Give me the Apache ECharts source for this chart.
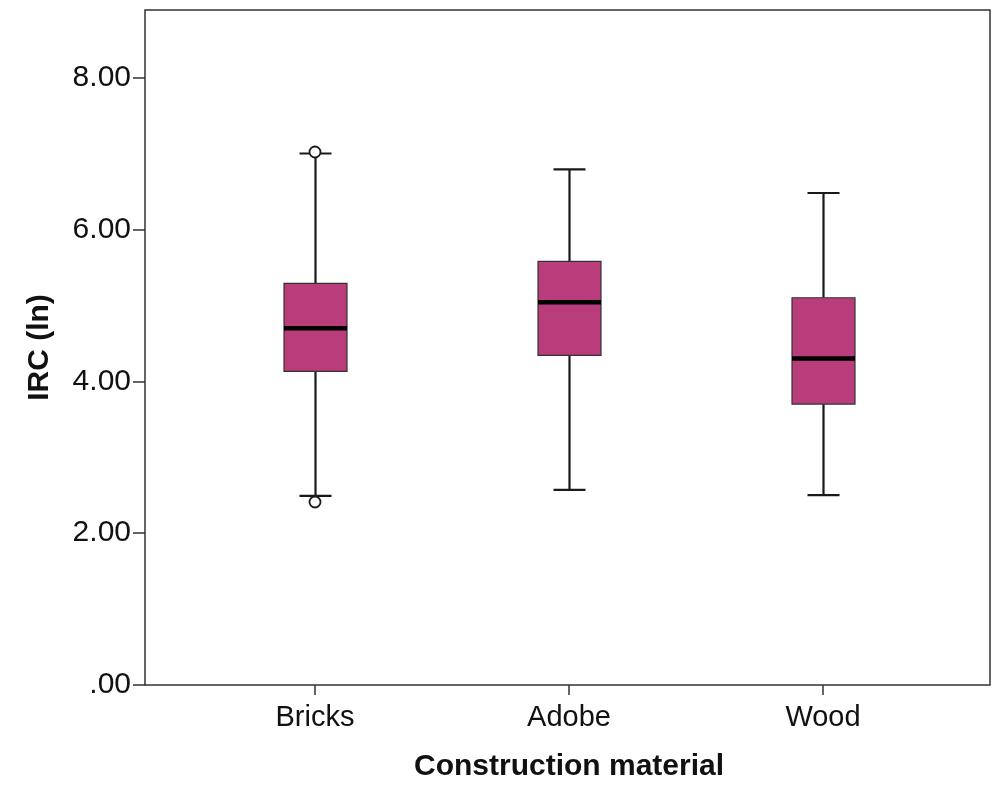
<!DOCTYPE html>
<html>
<head>
<meta charset="utf-8">
<script src="https://cdn.jsdelivr.net/npm/echarts@6/dist/echarts.min.js"></script>
<style>
  html, body { margin: 0; padding: 0; background: #fff; }
  #container { width: 1005px; height: 803px; }
</style>
</head>
<body>
<div id="container"></div>
<script>
// data
var materials = ['Bricks', 'Adobe', 'Wood'];
var whiskerLow = [2.49, 2.57, 2.50];
var q1 = [4.13, 4.34, 3.70];
var median = [4.70, 5.04, 4.30];
var q3 = [5.29, 5.58, 5.10];
var whiskerHigh = [7.00, 6.79, 6.48];
var outliers = [[0, 7.02], [0, 2.41]];
var yTicks = [0, 2, 4, 6, 8];
var yMax = 8.89;

var boxColor = '#B93C7B';
var font = '"Liberation Sans", Arial, sans-serif';

var boxData = materials.map(function (m, i) {
  return [i, whiskerLow[i], q1[i], median[i], q3[i], whiskerHigh[i]];
});

var dom = document.getElementById('container');
var myChart = echarts.init(dom);

function renderBox(params, api) {
  var i = api.value(0);
  var band = api.size([1, 0])[0];
  var bw = band * 0.248, cw = band * 0.126;
  var pLow = api.coord([i, api.value(1)]);
  var pQ1 = api.coord([i, api.value(2)]);
  var pMed = api.coord([i, api.value(3)]);
  var pQ3 = api.coord([i, api.value(4)]);
  var pHigh = api.coord([i, api.value(5)]);
  var x = Math.round(pLow[0]) + 0.5;
  var lineStyle = { stroke: '#1a1a1a', lineWidth: 2.2 };
  return {
    type: 'group',
    children: [
      { type: 'line', shape: { x1: x, y1: pLow[1], x2: x, y2: pQ1[1] }, style: lineStyle },
      { type: 'line', shape: { x1: x, y1: pQ3[1], x2: x, y2: pHigh[1] }, style: lineStyle },
      { type: 'line', shape: { x1: x - cw / 2, y1: pLow[1], x2: x + cw / 2, y2: pLow[1] }, style: lineStyle },
      { type: 'line', shape: { x1: x - cw / 2, y1: pHigh[1], x2: x + cw / 2, y2: pHigh[1] }, style: lineStyle },
      { type: 'rect', shape: { x: x - bw / 2, y: pQ3[1], width: bw, height: pQ1[1] - pQ3[1] },
        style: { fill: boxColor, stroke: '#333', lineWidth: 1.2 } },
      { type: 'line', shape: { x1: x - bw / 2, y1: pMed[1], x2: x + bw / 2, y2: pMed[1] },
        style: { stroke: '#000', lineWidth: 4.5 } }
    ]
  };
}

var option = {
  backgroundColor: '#fff',
  animation: false,
  grid: [
    // the framed plot area
    { left: 145, right: 15, top: 10, bottom: 118, show: true, borderColor: '#333', borderWidth: 1.5, backgroundColor: 'transparent' },
    // where the boxes sit
    { left: 188, width: 762, top: 10, bottom: 118 }
  ],
  xAxis: [
    { gridIndex: 0, type: 'value', min: 0, max: 1, show: false },
    {
      gridIndex: 1, type: 'category', data: materials,
      axisLine: { show: false },
      axisTick: { show: true, alignWithLabel: true, length: 10, lineStyle: { color: '#333', width: 1.5 } },
      axisLabel: { fontSize: 29, color: '#111', fontFamily: font, margin: 18 },
      name: 'Construction material', nameLocation: 'middle', nameGap: 67,
      nameTextStyle: { fontSize: 30, fontWeight: 'bold', color: '#111', fontFamily: font }
    }
  ],
  yAxis: [
    {
      gridIndex: 0, type: 'value', min: 0, max: yMax, interval: 2,
      splitLine: { show: false },
      axisLine: { show: false },
      axisTick: { show: true, length: 12, lineStyle: { color: '#333', width: 1.5 } },
      axisLabel: {
        fontSize: 30, color: '#111', fontFamily: font, margin: 14,
        padding: [6, 0, 0, 0],
        showMaxLabel: false,
        formatter: function (v) {
          if (yTicks.indexOf(v) < 0) return '';
          return v === 0 ? '.00' : v.toFixed(2);
        }
      },
      name: 'IRC (ln)', nameLocation: 'middle', nameGap: 90,
      nameTextStyle: { fontSize: 30, fontWeight: 'bold', color: '#111', fontFamily: font }
    },
    { gridIndex: 1, type: 'value', min: 0, max: yMax, show: false }
  ],
  series: [
    {
      type: 'custom', xAxisIndex: 1, yAxisIndex: 1,
      renderItem: renderBox,
      encode: { x: 0, y: [1, 2, 3, 4, 5] },
      data: boxData
    },
    {
      type: 'scatter', xAxisIndex: 1, yAxisIndex: 1,
      symbol: 'circle', symbolSize: 11,
      itemStyle: { color: '#fff', borderColor: '#1a1a1a', borderWidth: 1.8, opacity: 1 },
      data: outliers
    }
  ]
};
if (option && typeof option === "object") {
  myChart.setOption(option, true);
}
</script>
</body>
</html>
